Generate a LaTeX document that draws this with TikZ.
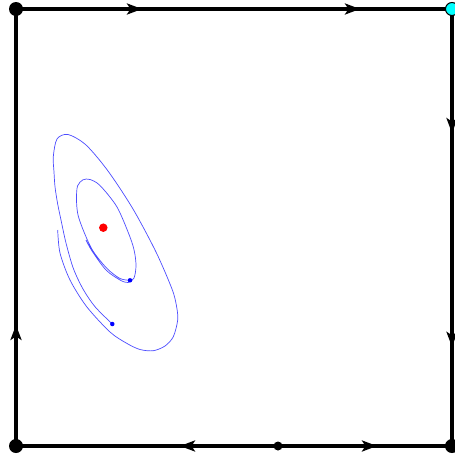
\documentclass[tikz,border=0pt]{standalone}
\usetikzlibrary{arrows.meta,decorations.markings}
\definecolor{traj}{rgb}{0.3,0.3,1}
\definecolor{cyanfill}{rgb}{0,1,1}
\tikzset{
  edge/.style={line width=3.5pt,black},
  tipmark/.style={postaction={decorate,decoration={markings,mark=at position #1 with {\arrow{Stealth[length=15pt,width=11pt,inset=3.5pt]}}}}},
  bigdot/.style={circle,fill=black,inner sep=0pt,minimum size=14pt},
  smalldot/.style={circle,fill=black,inner sep=0pt,minimum size=9pt},
  cyandot/.style={circle,fill=cyanfill,draw=black,line width=1pt,inner sep=0pt,minimum size=13pt},
  reddot/.style={circle,fill=red,inner sep=0pt,minimum size=8.5pt},
  bluedot/.style={circle,fill=blue,inner sep=0pt,minimum size=4.5pt},
  orbit/.style={traj,line width=0.7pt}
}
\begin{document}
\begin{tikzpicture}[x=1pt,y=-1pt]
\useasboundingbox (0,0) rectangle (455,458);
\coordinate (tl) at (16,9);
\coordinate (tr) at (452,9);
\coordinate (bl) at (16,446);
\coordinate (br) at (452,446);
\coordinate (bm) at (278,446);
% frame
\draw[edge,tipmark=0.289,tipmark=0.789] (tl) -- (tr);
\draw[edge,tipmark=0.284,tipmark=0.773] (tr) -- (br);
\draw[edge,tipmark=0.374] (bm) -- (bl);
\draw[edge,tipmark=0.569] (bm) -- (br);
\draw[edge,tipmark=0.277] (bl) -- (tl);
% outer trajectory
\draw[orbit] plot[smooth] coordinates {
(57.7,230) (60,253) (70,280) (86.7,306.7) (110,332) (126.7,343.3)
(140,349.5) (153.3,350.7) (165,346) (173.3,336.7) (177.7,320) (176.5,306)
(172,289) (156,252) (133,209) (108,171) (86,145) 
(68,134.5) (57,139) (53.3,156.7) (54,172) (55,186.7) (57.5,203)
(61,220) (66,243) (73.3,268.3) (83,289) (95,306.7) (112.3,324)};
% inner trajectory
\draw[orbit] plot[smooth] coordinates {
(86,240) (92,251) (106,270) (120,280) (128,282.5) (134,278) (136,266) (134.5,252)
(130,237) (117,207) (100,185.5) (90,179.5) (83,179.8) (77.5,186) (76.5,200)
(78,215) (84,232) (93,251) (107,268.5) (120,278.5) (130,280.3)};
% dots
\node[bigdot] (n1) at (tl) {};
\node[cyandot] (n2) at (tr) {};
\node[bigdot] (n3) at (bl) {};
\node[bigdot] (n4) at (br) {};
\node[smalldot] (n5) at (bm) {};
\node[reddot] (eq) at (103.3,227.7) {};
\node[bluedot] (s1) at (112.3,324) {};
\node[bluedot] (s2) at (130,280.3) {};
\end{tikzpicture}
\end{document}
